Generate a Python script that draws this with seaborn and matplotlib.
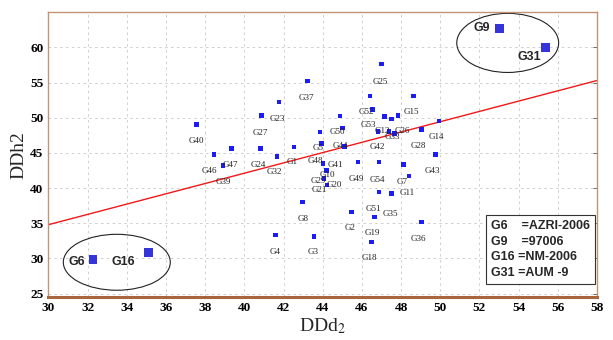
import matplotlib
matplotlib.use("Agg")
import matplotlib.pyplot as plt
import numpy as np
import pandas as pd
import seaborn as sns
from matplotlib.patches import Ellipse

# Genotype scatter (DDd2 vs DDh2)
point_x = [43.22, 41.76, 40.87, 37.56, 43.85, 39.34, 40.82, 42.52, 41.67, 38.45,
           38.90, 43.93, 42.96, 41.59, 43.54, 44.02, 44.19, 45.80, 46.86, 48.13,
           48.40, 46.87, 47.51, 45.46, 46.65, 49.04, 46.48, 47.00, 46.40, 48.64,
           44.89, 46.53, 47.16, 47.51, 47.85, 45.00, 47.37, 47.67, 49.04, 49.93,
           49.75, 45.12, 44.05, 44.21, 46.82]
point_y = [55.21, 52.23, 50.34, 49.06, 47.97, 45.61, 45.61, 45.84, 44.52, 44.76,
           43.24, 46.32, 38.03, 33.30, 33.15, 43.48, 42.53, 43.71, 43.67, 43.38,
           41.75, 39.45, 39.22, 36.61, 35.89, 35.18, 32.34, 57.68, 53.08, 53.08,
           50.24, 51.16, 50.16, 49.80, 50.34, 48.52, 48.07, 47.78, 48.31, 49.53,
           44.80, 45.94, 41.39, 40.40, 48.07]

label_names = ["G37", "G23", "G40", "G27", "G47", "G46", "G39", "G24", "G32", "G1",
               "G5", "G8", "G4", "G3", "G48", "G41", "G10", "G29", "G20", "G21",
               "G49", "G54", "G7", "G11", "G43", "G51", "G35", "G2", "G19", "G36",
               "G18", "G25", "G52", "G53", "G15", "G50", "G44", "G42", "G12", "G26",
               "G33", "G14", "G28"]
label_x = [43.19, 41.66, 37.57, 40.79, 39.31, 38.23, 38.90, 40.73, 41.55, 42.42,
           43.75, 42.98, 41.55, 43.49, 43.60, 44.65, 44.25, 43.75, 44.60, 43.80,
           45.73, 46.81, 48.03, 48.29, 49.61, 46.60, 47.45, 45.38, 46.55, 48.90,
           46.40, 46.96, 46.24, 46.34, 48.54, 44.76, 44.92, 46.76, 47.05, 48.05,
           47.55, 49.82, 48.90]
label_y = [52.76, 49.77, 46.65, 47.78, 43.24, 42.39, 40.82, 43.24, 42.24, 43.66,
           45.65, 35.57, 30.88, 30.88, 43.90, 43.24, 41.90, 40.97, 40.45, 39.75,
           41.25, 41.11, 40.82, 39.26, 42.39, 37.10, 36.35, 34.29, 33.58, 32.73,
           30.03, 55.03, 50.77, 48.92, 50.77, 47.93, 45.94, 45.80, 48.15, 48.15,
           47.25, 47.22, 45.94]

# circled genotypes
key_names = ["G6", "G16", "G9", "G31"]
key_x = [32.27, 35.12, 53.03, 55.38]
key_y = [29.89, 30.88, 62.70, 60.00]
key_text_x = [31.45, 33.80, 52.11, 54.56]
key_text_y = [29.46, 29.46, 62.70, 58.58]

legend_names = ["G6", "G9", "G16", "G31"]
legend_desc = ["=AZRI-2006", "=97006", "=NM-2006", "=AUM -9"]

trend_slope = 0.732
trend_intercept = 12.84

sns.set_style("white")
plt.rcParams["font.family"] = ["Liberation Serif", "DejaVu Serif"]
plt.rcParams["mathtext.fontset"] = "stix"

fig = plt.figure(figsize=(6.13, 3.4), dpi=100)
ax = fig.add_axes([0.079, 0.126, 0.895, 0.838])

pts = pd.DataFrame({"DDd2": point_x, "DDh2": point_y})
sns.scatterplot(data=pts, x="DDd2", y="DDh2", marker="s", s=10, color="#1c1cf5",
                edgecolor="none", ax=ax, zorder=3)
keys = pd.DataFrame({"DDd2": key_x, "DDh2": key_y})
sns.scatterplot(data=keys, x="DDd2", y="DDh2", marker="s", s=40, color="#3434d8",
                edgecolor="none", ax=ax, zorder=3)

xs = np.array([30, 58])
ax.plot(xs, trend_intercept + trend_slope * xs, color="#f01818", linewidth=1.0, zorder=2)

for name, lx, ly in zip(label_names, label_x, label_y):
    ax.text(lx, ly, name, fontsize=6.5, ha="center", va="center", color="#222222", zorder=4)

for name, lx, ly in zip(key_names, key_text_x, key_text_y):
    ax.text(lx, ly, name, fontsize=9, fontweight="bold", ha="center", va="center",
            family="Liberation Sans", zorder=4)

ax.add_patch(Ellipse((33.49, 29.46), 5.46, 7.95, fill=False, edgecolor="#222222", linewidth=0.8))
ax.add_patch(Ellipse((53.44, 60.64), 5.2, 8.4, fill=False, edgecolor="#222222", linewidth=0.8))

legend_text = "\n".join(
    f"{n}{' ' * (4 if len(n) == 2 else 1)}{d}" for n, d in zip(legend_names, legend_desc))
ax.text(0.806, 0.27, legend_text, transform=ax.transAxes, fontsize=9, fontweight="bold",
        family="Liberation Sans", va="top", ha="left", linespacing=1.4, zorder=5,
        bbox=dict(boxstyle="square,pad=0.4", facecolor="white", edgecolor="#333333", linewidth=0.8))

ax.set_xlim(30, 58)
ax.set_ylim(24.5, 65)
ax.set_xticks(range(30, 59, 2))
ax.set_yticks(range(25, 61, 5))
ax.tick_params(axis="both", labelsize=9.5, direction="in", length=3, width=0.6,
               colors="#555555", labelcolor="black", right=True)
for lab in ax.get_xticklabels() + ax.get_yticklabels():
    lab.set_fontweight("bold")

ax.grid(True, linestyle=(0, (3, 4)), color="#c8c8c8", linewidth=0.6)
ax.set_axisbelow(True)

for side in ["top", "left", "right"]:
    ax.spines[side].set_color("#c09474")
    ax.spines[side].set_linewidth(1.0)
ax.spines["bottom"].set_color("#a8653e")
ax.spines["bottom"].set_linewidth(2.2)

ax.set_xlabel(r"DDd$_\mathrm{2}$", fontsize=14, labelpad=2)
ax.set_ylabel("DDh2", fontsize=14, labelpad=2)

fig.savefig("out.png", dpi=100)
plt.close(fig)
